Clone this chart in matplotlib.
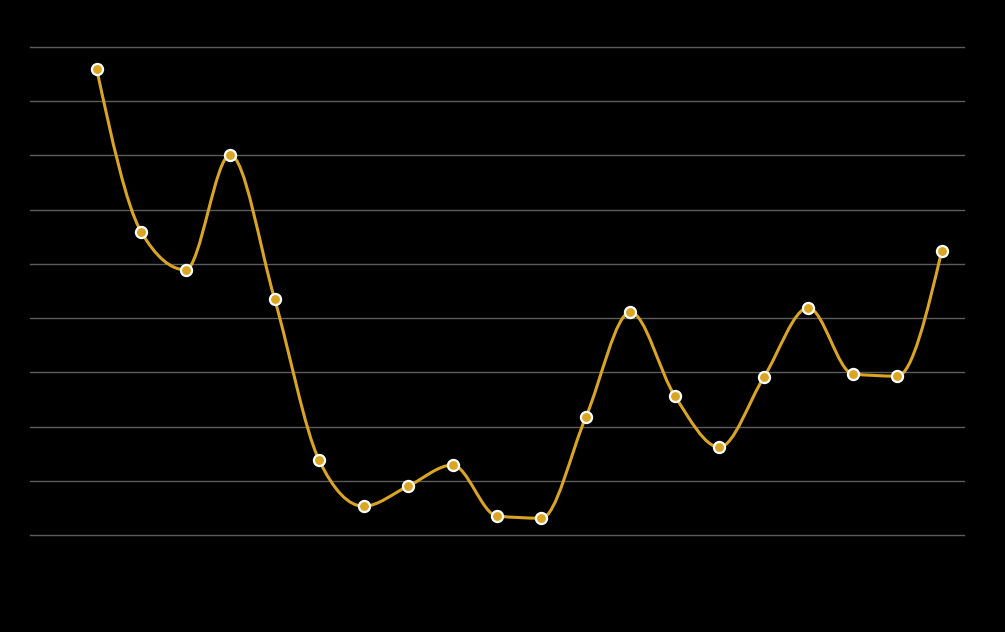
import numpy as np
import matplotlib
matplotlib.use("Agg")
import matplotlib.pyplot as plt
from matplotlib.path import Path
from matplotlib.patches import PathPatch

# values (gridlines at 0..9)
x_idx = list(range(20))
values = [8.59, 5.59, 4.89, 7.01, 4.35, 1.38, 0.53, 0.90, 1.29, 0.35,
          0.31, 2.18, 4.11, 2.56, 1.62, 2.91, 4.19, 2.97, 2.93, 5.24]
grid_levels = list(range(10))

line_color = "#D9A522"
grid_color = "#5c5c5c"

fig = plt.figure(figsize=(10.05, 6.32), dpi=100, facecolor="black")
ax = fig.add_axes([30 / 1005, 97 / 632, 934 / 1005, 488 / 632])
ax.set_facecolor("black")

# monotone cubic curve through the points (like d3 curveMonotoneX)
xs = np.array(x_idx, dtype=float)
ys = np.array(values, dtype=float)
n = len(xs)
h = np.diff(xs)
sec = np.diff(ys) / h
t = np.zeros(n)
for i in range(1, n - 1):
    s0, s1 = sec[i - 1], sec[i]
    p = (s0 * h[i] + s1 * h[i - 1]) / (h[i - 1] + h[i])
    t[i] = (np.sign(s0) + np.sign(s1)) * min(abs(s0), abs(s1), 0.5 * abs(p))
t[0] = (3 * sec[0] - t[1]) / 2
t[-1] = (3 * sec[-1] - t[-2]) / 2

verts = [(xs[0], ys[0])]
codes = [Path.MOVETO]
for i in range(n - 1):
    dx = h[i] / 3
    verts += [(xs[i] + dx, ys[i] + dx * t[i]),
              (xs[i + 1] - dx, ys[i + 1] - dx * t[i + 1]),
              (xs[i + 1], ys[i + 1])]
    codes += [Path.CURVE4] * 3
ax.add_patch(PathPatch(Path(verts, codes), facecolor="none",
                       edgecolor=line_color, lw=2.2, zorder=3))

ax.plot(xs, ys, linestyle="none", marker="o", markersize=8,
        markerfacecolor=line_color, markeredgecolor="white",
        markeredgewidth=1.6, zorder=4)

for g in grid_levels:
    ax.axhline(g, color=grid_color, lw=1, zorder=1, clip_on=False)

ax.set_xlim(-1.5, 19.5)
ax.set_ylim(0, 9)
ax.set_xticks([])
ax.set_yticks([])
for sp in ax.spines.values():
    sp.set_visible(False)

fig.savefig("out.png", dpi=100, facecolor="black")
